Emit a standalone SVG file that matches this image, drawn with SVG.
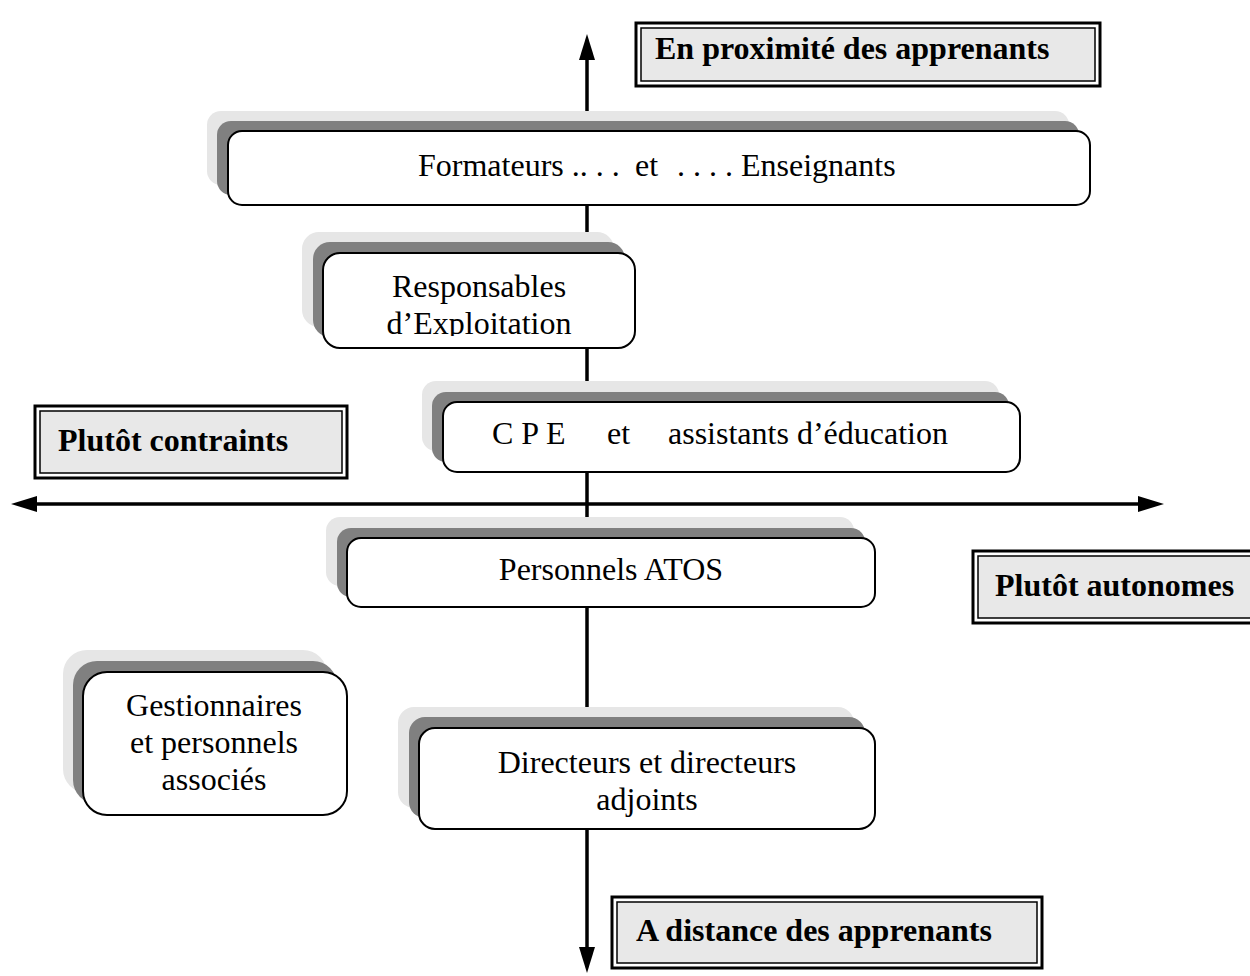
<svg xmlns="http://www.w3.org/2000/svg" width="1250" height="976" viewBox="0 0 1250 976">
<style>
.lbl-o{fill:#ffffff;stroke:#000;stroke-width:3}
.lbl-i{fill:#e8e8e8;stroke:#000;stroke-width:1.5}
.lbl-t{font-family:"Liberation Serif","Times New Roman",serif;font-weight:bold;font-size:32px;fill:#000}
.sh1{fill:#e6e6e6}
.sh2{fill:#808080}
.box{fill:#ffffff;stroke:#000;stroke-width:2}
.t{font-family:"Liberation Serif","Times New Roman",serif;font-size:32px;fill:#000}
.ax{stroke:#000;stroke-width:3.5;fill:none}
.ah{fill:#000}
</style>
<defs>
<clipPath id="clipResp"><rect x="323" y="253" width="312" height="83"/></clipPath>
</defs>
<rect x="0" y="0" width="1250" height="976" fill="#ffffff"/>

<g id="connectors">
<line class="ax" x1="587" y1="58" x2="587" y2="949"/>
<polygon class="ah" points="587,34 579,60 595,60"/>
<polygon class="ah" points="587,973 579,947 595,947"/>
<line class="ax" x1="35" y1="504" x2="1140" y2="504"/>
<polygon class="ah" points="11,504 37,496 37,512"/>
<polygon class="ah" points="1164,504 1138,496 1138,512"/>
</g>

<g id="label-proximite">
<rect class="lbl-o" x="636" y="23" width="464" height="63"/>
<rect class="lbl-i" x="641" y="28" width="454" height="53"/>
<text class="lbl-t" x="655" y="59">En proximité des apprenants</text>
</g>

<g id="label-contraints">
<rect class="lbl-o" x="35" y="406" width="312" height="72"/>
<rect class="lbl-i" x="40" y="411" width="302" height="62"/>
<text class="lbl-t" x="58" y="451">Plutôt contraints</text>
</g>

<g id="label-autonomes">
<rect class="lbl-o" x="973" y="551" width="290" height="72"/>
<rect class="lbl-i" x="978" y="556" width="290" height="62"/>
<text class="lbl-t" x="995" y="596">Plutôt autonomes</text>
</g>

<g id="label-distance">
<rect class="lbl-o" x="612" y="897" width="430" height="71"/>
<rect class="lbl-i" x="617" y="902" width="420" height="61"/>
<text class="lbl-t" x="636" y="941">A distance des apprenants</text>
</g>

<g id="node-formateurs">
<rect class="sh1" x="207" y="111" width="862" height="74" rx="14"/>
<rect class="sh2" x="217" y="121" width="862" height="74" rx="14"/>
<rect class="box" x="228" y="131" width="862" height="74" rx="14"/>
<text class="t" y="176"><tspan x="418">Formateurs .. . .</tspan><tspan x="635">et</tspan><tspan x="677">. . . . Enseignants</tspan></text>
</g>

<g id="node-responsables">
<rect class="sh1" x="302" y="232" width="312" height="95" rx="17"/>
<rect class="sh2" x="313" y="242" width="312" height="95" rx="17"/>
<rect class="box" x="323" y="253" width="312" height="95" rx="17"/>
<g clip-path="url(#clipResp)">
<text class="t" text-anchor="middle" x="479" y="297">Responsables</text>
<text class="t" text-anchor="middle" x="479" y="334">d’Exploitation</text>
</g>
</g>

<g id="node-cpe">
<rect class="sh1" x="422" y="381" width="577" height="70" rx="14"/>
<rect class="sh2" x="432" y="392" width="577" height="70" rx="14"/>
<rect class="box" x="443" y="402" width="577" height="70" rx="14"/>
<text class="t" y="444"><tspan x="492">C P E</tspan><tspan x="607">et</tspan><tspan x="668">assistants d’éducation</tspan></text>
</g>

<g id="node-atos">
<rect class="sh1" x="326" y="517" width="528" height="69" rx="14"/>
<rect class="sh2" x="337" y="528" width="528" height="69" rx="14"/>
<rect class="box" x="347" y="538" width="528" height="69" rx="14"/>
<text class="t" text-anchor="middle" x="611" y="580">Personnels ATOS</text>
</g>

<g id="node-gestionnaires">
<rect class="sh1" x="63" y="650" width="264" height="143" rx="24"/>
<rect class="sh2" x="73" y="661" width="264" height="143" rx="24"/>
<rect class="box" x="83" y="672" width="264" height="143" rx="24"/>
<text class="t" text-anchor="middle" x="214" y="716">Gestionnaires</text>
<text class="t" text-anchor="middle" x="214" y="753">et personnels</text>
<text class="t" text-anchor="middle" x="214" y="790">associés</text>
</g>

<g id="node-directeurs">
<rect class="sh1" x="398" y="707" width="456" height="101" rx="16"/>
<rect class="sh2" x="409" y="717" width="456" height="101" rx="16"/>
<rect class="box" x="419" y="728" width="456" height="101" rx="16"/>
<text class="t" text-anchor="middle" x="647" y="773">Directeurs et directeurs</text>
<text class="t" text-anchor="middle" x="647" y="810">adjoints</text>
</g>
</svg>
